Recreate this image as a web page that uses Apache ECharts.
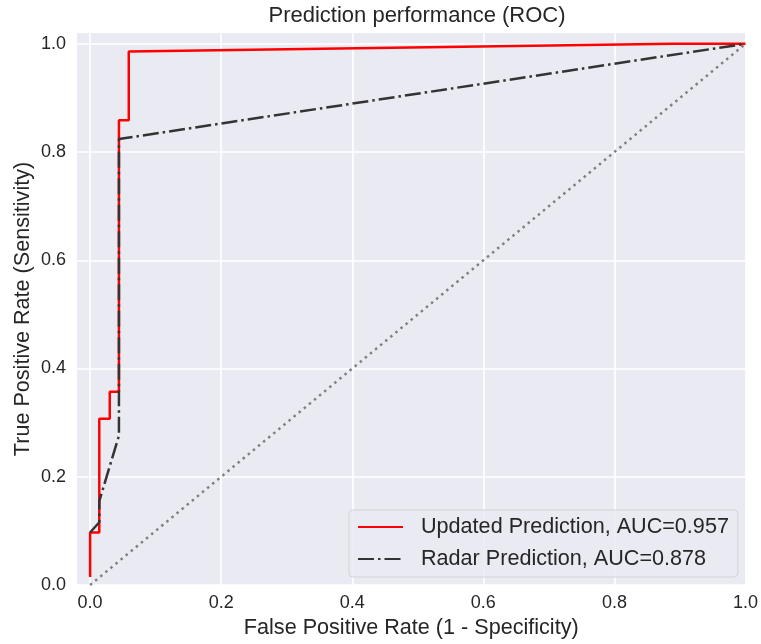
<!DOCTYPE html>
<html>
<head>
<meta charset="utf-8">
<script src="https://cdn.jsdelivr.net/npm/echarts@6/dist/echarts.min.js"></script>
<style>
  html, body { margin: 0; padding: 0; background: #ffffff; }
  #chart_roc { width: 761px; height: 644px; }
</style>
</head>
<body>
<div id="chart_roc"></div>
<script>
// ROC points
var updatedFpr = [0, 0, 0.014, 0.014, 0.03, 0.03, 0.044, 0.044, 0.059, 0.059, 0.89, 1.0];
var updatedTpr = [0.015, 0.097, 0.097, 0.307, 0.307, 0.357, 0.357, 0.859, 0.859, 0.986, 1.0, 1.0];
var radarFpr = [0, 0.014, 0.014, 0.043, 0.044, 0.044, 1.0];
var radarTpr = [0.097, 0.116, 0.155, 0.272, 0.28, 0.824, 1.0];
var chanceFpr = [0, 1];
var chanceTpr = [0, 1];
var tickValues = [0, 0.2, 0.4, 0.6, 0.8, 1.0];
var legendNames = ["Updated Prediction, AUC=0.957", "Radar Prediction, AUC=0.878"];

function toPairs(xs, ys) {
  return xs.map(function(x, i) {
    return [x, ys[i]];
  });
}

var textColor = "#262626";
var myChart = echarts.init(document.getElementById("chart_roc"));
var option = {
  backgroundColor: "#ffffff",
  animation: false,
  title: {
    text: "Prediction performance (ROC)",
    left: 412,
    top: 0,
    textAlign: "center",
    textStyle: {
      fontFamily: "Liberation Sans",
      fontWeight: "normal",
      fontSize: 22,
      color: textColor
    }
  },
  grid: {
    left: 77,
    right: 13,
    top: 33,
    bottom: 56,
    show: true,
    backgroundColor: "#EAEAF2",
    borderWidth: 0
  },
  legend: {
    orient: "vertical",
    left: 349,
    top: 510,
    data: legendNames,
    itemWidth: 45,
    itemHeight: 14,
    itemGap: 10,
    padding: [6, 9, 7, 8],
    backgroundColor: "rgba(234,234,242,0.8)",
    borderColor: "#d2d2d8",
    borderWidth: 1,
    borderRadius: 4,
    itemStyle: { opacity: 0 }, // hide the circle, keep the line
    textStyle: {
      fontFamily: "Liberation Sans",
      fontSize: 21.6,
      lineHeight: 22,
      padding: [0, 0, 0, 13],
      color: textColor
    }
  },
  xAxis: {
    type: "value",
    min: -0.02,
    max: 1.0,
    name: "False Positive Rate (1 - Specificity)",
    nameLocation: "middle",
    nameGap: 32,
    nameMoveOverlap: false,
    nameTextStyle: {
      fontFamily: "Liberation Sans",
      fontSize: 21.6,
      color: textColor
    },
    axisLine: { show: false },
    axisTick: { show: false, customValues: tickValues },
    axisLabel: {
      customValues: tickValues,
      margin: 9,
      fontFamily: "Liberation Sans",
      fontSize: 18,
      color: textColor,
      formatter: function(v) {
        return v.toFixed(1);
      }
    },
    splitLine: {
      show: true,
      lineStyle: { color: "#ffffff", width: 1.6 }
    }
  },
  yAxis: {
    type: "value",
    min: 0,
    max: 1.02,
    name: "True Positive Rate (Sensitivity)",
    nameLocation: "middle",
    nameGap: 43,
    nameMoveOverlap: false,
    nameTextStyle: {
      fontFamily: "Liberation Sans",
      fontSize: 21.6,
      color: textColor
    },
    axisLine: { show: false },
    axisTick: { show: false, customValues: tickValues },
    axisLabel: {
      customValues: tickValues,
      margin: 11,
      fontFamily: "Liberation Sans",
      fontSize: 18,
      color: textColor,
      formatter: function(v) {
        return v.toFixed(1);
      }
    },
    splitLine: {
      show: true,
      lineStyle: { color: "#ffffff", width: 1.6 }
    }
  },
  series: [
    {
      name: "chance",
      type: "line",
      symbol: "none",
      silent: true,
      data: toPairs(chanceFpr, chanceTpr),
      lineStyle: { color: "#808080", width: 2.5, type: [2.5, 4.1] },
      z: 1
    },
    {
      name: legendNames[0],
      type: "line",
      symbol: "none",
      data: toPairs(updatedFpr, updatedTpr),
      lineStyle: { color: "#ff0000", width: 2.5 },
      itemStyle: { color: "#ff0000" },
      z: 2
    },
    {
      name: legendNames[1],
      type: "line",
      symbol: "none",
      data: toPairs(radarFpr, radarTpr),
      lineStyle: { color: "#333333", width: 2.5, type: [16, 4, 2.5, 4] },
      itemStyle: { color: "#333333" },
      z: 3
    }
  ]
};
myChart.setOption(option, true);
window.addEventListener("resize", function() {
  myChart.resize();
});
</script>
</body>
</html>
